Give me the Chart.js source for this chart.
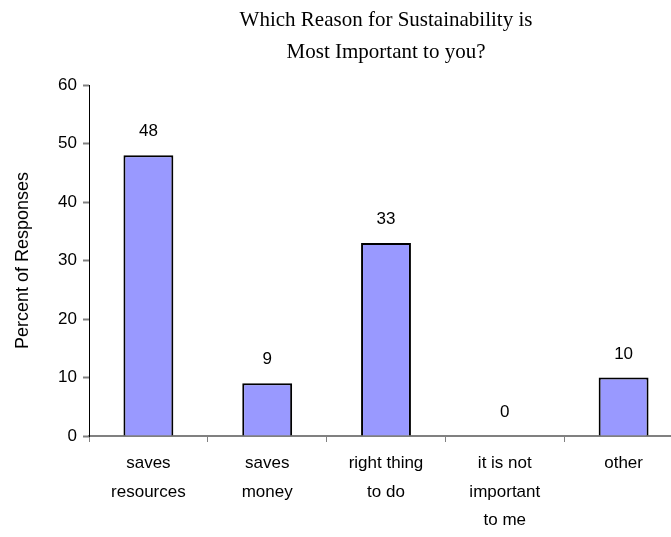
<!DOCTYPE html>
<html>
<head>
<meta charset="utf-8">
<script src="https://cdn.jsdelivr.net/npm/chart.js@4"></script>
<style>
  html, body { margin: 0; padding: 0; background: #fff; overflow: hidden; }
  #wrap { width: 671px; height: 537px; overflow: hidden; }
</style>
</head>
<body>
<div id="wrap"><canvas id="chart" width="684" height="537"></canvas></div>
<script>
// ---- dados ----
const categorias = [
    ["saves", "resources"],
    ["saves", "money"],
    ["right thing", "to do"],
    ["it is not", "important", "to me"],
    ["other"]
];
const percentuais = [48, 9, 33, 0, 10];
const tituloLinhas = ["Which Reason for Sustainability is", "Most Important to you?"];
const eixoY = { min: 0, max: 60, passo: 10, titulo: "Percent of Responses" };

const fonteSans = "'Liberation Sans', Arial, sans-serif";
const fonteSerif = "'Liberation Serif', 'Times New Roman', serif";

// rótulos com o valor em cima de cada barra
const rotulosValor = {
    id: "rotulosValor",
    afterDatasetsDraw(chart) {
        const ctx = chart.ctx;
        const meta = chart.getDatasetMeta(0);
        ctx.save();
        ctx.font = "17px " + fonteSans;
        ctx.fillStyle = "#000";
        ctx.textAlign = "center";
        ctx.textBaseline = "alphabetic";
        meta.data.forEach((bar, i) => {
            ctx.fillText(String(percentuais[i]), bar.x, bar.y - 19);
        });
        ctx.restore();
    }
};

const ctx = document.getElementById("chart").getContext("2d");
new Chart(ctx, {
    type: "bar",
    data: {
        labels: categorias,
        datasets: [{
            data: percentuais,
            backgroundColor: "#9999ff",
            borderColor: "#000000",
            borderWidth: 2,
            barPercentage: 0.42,
            categoryPercentage: 1.0
        }]
    },
    options: {
        responsive: false,
        animation: false,
        layout: { padding: { left: 0, right: 1, top: 0, bottom: 0 } },
        plugins: {
            legend: { display: false },
            tooltip: { enabled: false },
            title: {
                display: true,
                text: tituloLinhas,
                fullSize: false,
                color: "#000",
                font: { family: fonteSerif, size: 21, weight: "normal", lineHeight: 1.55 },
                padding: { top: 4, bottom: 16 }
            }
        },
        scales: {
            x: {
                offset: true,
                grid: {
                    offset: true,
                    drawOnChartArea: false,
                    drawTicks: true,
                    tickLength: 6,
                    tickColor: "#808080",
                    tickWidth: 1
                },
                border: { display: true, color: "#808080", width: 2 },
                ticks: {
                    color: "#000",
                    maxRotation: 0,
                    autoSkip: false,
                    padding: 7,
                    font: { family: fonteSans, size: 17, lineHeight: 1.68 }
                },
                afterFit: (scale) => { scale.height = 101; }
            },
            y: {
                min: eixoY.min,
                max: eixoY.max,
                grid: {
                    drawOnChartArea: false,
                    drawTicks: true,
                    tickLength: 6,
                    tickColor: "#808080",
                    tickWidth: 2
                },
                border: { display: true, color: "#000", width: 1 },
                ticks: {
                    stepSize: eixoY.passo,
                    color: "#000",
                    padding: 6,
                    font: { family: fonteSans, size: 17 }
                },
                title: {
                    display: true,
                    text: eixoY.titulo,
                    color: "#000",
                    padding: { top: 12, bottom: 8 },
                    font: { family: fonteSans, size: 18 }
                },
                afterFit: (scale) => { scale.width = 89; }
            }
        }
    },
    plugins: [rotulosValor]
});
</script>
</body>
</html>
